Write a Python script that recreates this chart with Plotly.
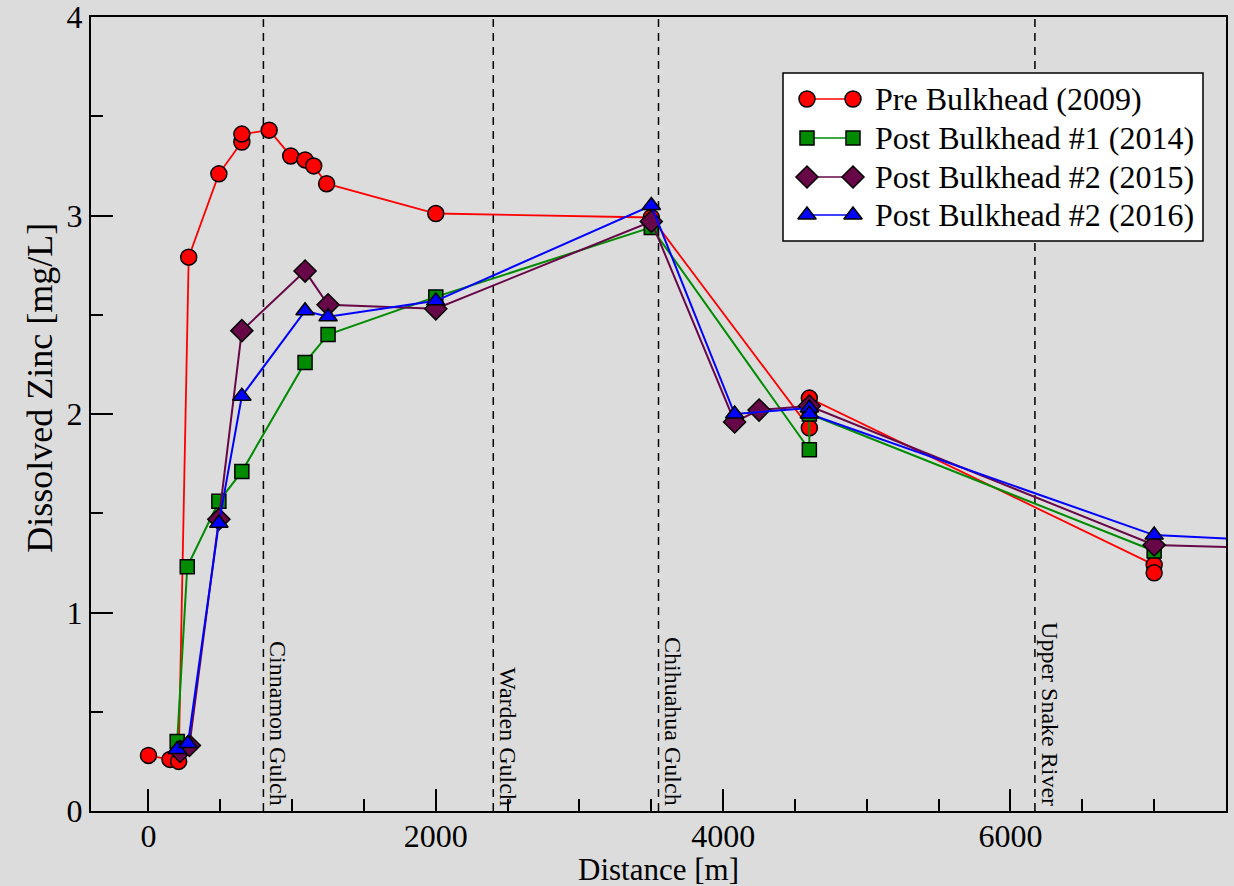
import plotly.graph_objects as go

# ---------------- data ----------------
series_names = ["Pre Bulkhead (2009)", "Post Bulkhead #1 (2014)",
                "Post Bulkhead #2 (2015)", "Post Bulkhead #2 (2016)"]

pre2009_x = [0, 150, 210, 280, 490, 650, 650, 840, 990, 1090, 1150, 1240, 2000, 3500, 4600, 4600, 7000, 7000]
pre2009_y = [0.28, 0.26, 0.25, 2.79, 3.21, 3.37, 3.41, 3.43, 3.30, 3.28, 3.25, 3.16, 3.01, 2.99, 1.93, 2.08, 1.24, 1.20]

post2014_x = [200, 270, 490, 650, 1090, 1250, 2000, 3500, 4600, 4600, 7000]
post2014_y = [0.35, 1.23, 1.56, 1.71, 2.26, 2.40, 2.59, 2.94, 1.82, 2.00, 1.31]

post2015_x = [220, 285, 490, 650, 1090, 1250, 2000, 3500, 4080, 4250, 4600, 7000, 8000]
post2015_y = [0.30, 0.33, 1.47, 2.42, 2.72, 2.55, 2.53, 2.97, 1.96, 2.02, 2.04, 1.34, 1.32]

post2016_x = [200, 275, 490, 650, 1090, 1250, 2000, 3500, 4080, 4600, 4600, 7000, 8000]
post2016_y = [0.31, 0.34, 1.45, 2.09, 2.52, 2.49, 2.57, 3.05, 2.00, 2.03, 2.00, 1.39, 1.355]

gulch_x = [800, 2400, 3550, 6170]
gulch_labels = ["Cinnamon Gulch", "Warden Gulch", "Chihuahua Gulch", "Upper Snake River"]

x_ticks = [0, 2000, 4000, 6000]
y_ticks = [0, 1, 2, 3, 4]

# ---------------- style ----------------
FONT = "Liberation Serif, Times New Roman, serif"
BG = "#dcdcdc"
colors = ["#ff0000", "#008b00", "#670748", "#0000ff"]
symbols = ["circle", "square", "diamond", "triangle-up"]
msizes = [16, 14, 17, 16]
lwidths = [1.8, 2, 2, 2]

all_x = [pre2009_x, post2014_x, post2015_x, post2016_x]
all_y = [pre2009_y, post2014_y, post2015_y, post2016_y]

fig = go.Figure()

# main series
for i in range(4):
    fig.add_trace(go.Scatter(
        x=all_x[i], y=all_y[i], mode="lines+markers", name=series_names[i],
        line=dict(color=colors[i], width=lwidths[i]),
        marker=dict(symbol=symbols[i], size=msizes[i], color=colors[i],
                    line=dict(color="black", width=1.5)),
        showlegend=False, xaxis="x", yaxis="y"))

# vertical dashed gulch lines
shapes = []
annotations = []
for gx, gl in zip(gulch_x, gulch_labels):
    shapes.append(dict(type="line", xref="x", yref="paper", x0=gx, x1=gx, y0=0, y1=1,
                       line=dict(color="black", width=1.5, dash="8px,6px"), layer="below"))
    annotations.append(dict(x=gx, y=0, xref="x", yref="y", text=gl, textangle=90,
                            showarrow=False, xanchor="left", yanchor="bottom",
                            xshift=0, yshift=3, font=dict(family=FONT, size=24, color="black")))

# axis titles (placed as in the reference)
annotations.append(dict(x=0, y=0.533, xref="paper", yref="paper", text="Dissolved Zinc [mg/L]",
                        textangle=-90, showarrow=False, xanchor="center", yanchor="middle",
                        xshift=-51, font=dict(family=FONT, size=36, color="black")))
annotations.append(dict(x=0.5, y=0, xref="paper", yref="paper", text="Distance [m]",
                        showarrow=False, xanchor="center", yanchor="middle",
                        yshift=-58, font=dict(family=FONT, size=31, color="black")))

# custom legend on an auxiliary pixel-like axis (layout only)
LEG_X0, LEG_X1, LEG_Y0, LEG_Y1 = 783, 1203, 73, 241
LEG_ROWS = [99, 138, 177, 215]
LEG_SYM = [807, 853]
LEG_TXT = 873
shapes.append(dict(type="rect", xref="x2", yref="y2", x0=LEG_X0, x1=LEG_X1, y0=LEG_Y0, y1=LEG_Y1,
                   fillcolor="white", line=dict(color="black", width=1.5), layer="below"))
for i in range(4):
    fig.add_trace(go.Scatter(
        x=LEG_SYM, y=[LEG_ROWS[i]] * 2, mode="lines+markers",
        line=dict(color=colors[i], width=1.5),
        marker=dict(symbol=symbols[i], size=msizes[i], color=colors[i],
                    line=dict(color="black", width=1.5)),
        showlegend=False, hoverinfo="skip", xaxis="x2", yaxis="y2"))
    annotations.append(dict(x=LEG_TXT, y=LEG_ROWS[i], xref="x2", yref="y2", text=series_names[i],
                            showarrow=False, xanchor="left", yanchor="middle",
                            font=dict(family=FONT, size=32, color="black")))

fig.update_layout(
    width=1234, height=886,
    margin=dict(l=91, r=8, t=17, b=75, autoexpand=False),
    paper_bgcolor=BG, plot_bgcolor=BG,
    font=dict(family=FONT, size=30, color="black"),
    shapes=shapes, annotations=annotations,
    showlegend=False,
    xaxis=dict(range=[-400, 7500], tickvals=x_ticks, ticks="inside", ticklen=22, tickwidth=2,
               tickcolor="black", showline=True, linecolor="black", linewidth=2, mirror=True,
               showgrid=False, zeroline=False, ticklabeloverflow="allow", automargin=False,
               ticklabelstandoff=-4,
               minor=dict(ticks="inside", ticklen=12, tickwidth=2, tickcolor="black", dtick=500,
                          tick0=0, showgrid=False),
               tickfont=dict(family=FONT, size=32)),
    yaxis=dict(range=[0, 4], tickvals=y_ticks, ticks="inside", ticklen=22, tickwidth=2,
               tickcolor="black", showline=True, linecolor="black", linewidth=2, mirror=True,
               showgrid=False, zeroline=False, ticklabeloverflow="allow", automargin=False,
               minor=dict(ticks="inside", ticklen=12, tickwidth=2, tickcolor="black", dtick=0.5,
                          tick0=0, showgrid=False),
               tickfont=dict(family=FONT, size=32)),
    xaxis2=dict(overlaying="x", anchor="y2", range=[91, 1226], visible=False, fixedrange=True),
    yaxis2=dict(overlaying="y", anchor="x2", range=[811, 17], visible=False, fixedrange=True),
)

fig.write_html("out.html")
